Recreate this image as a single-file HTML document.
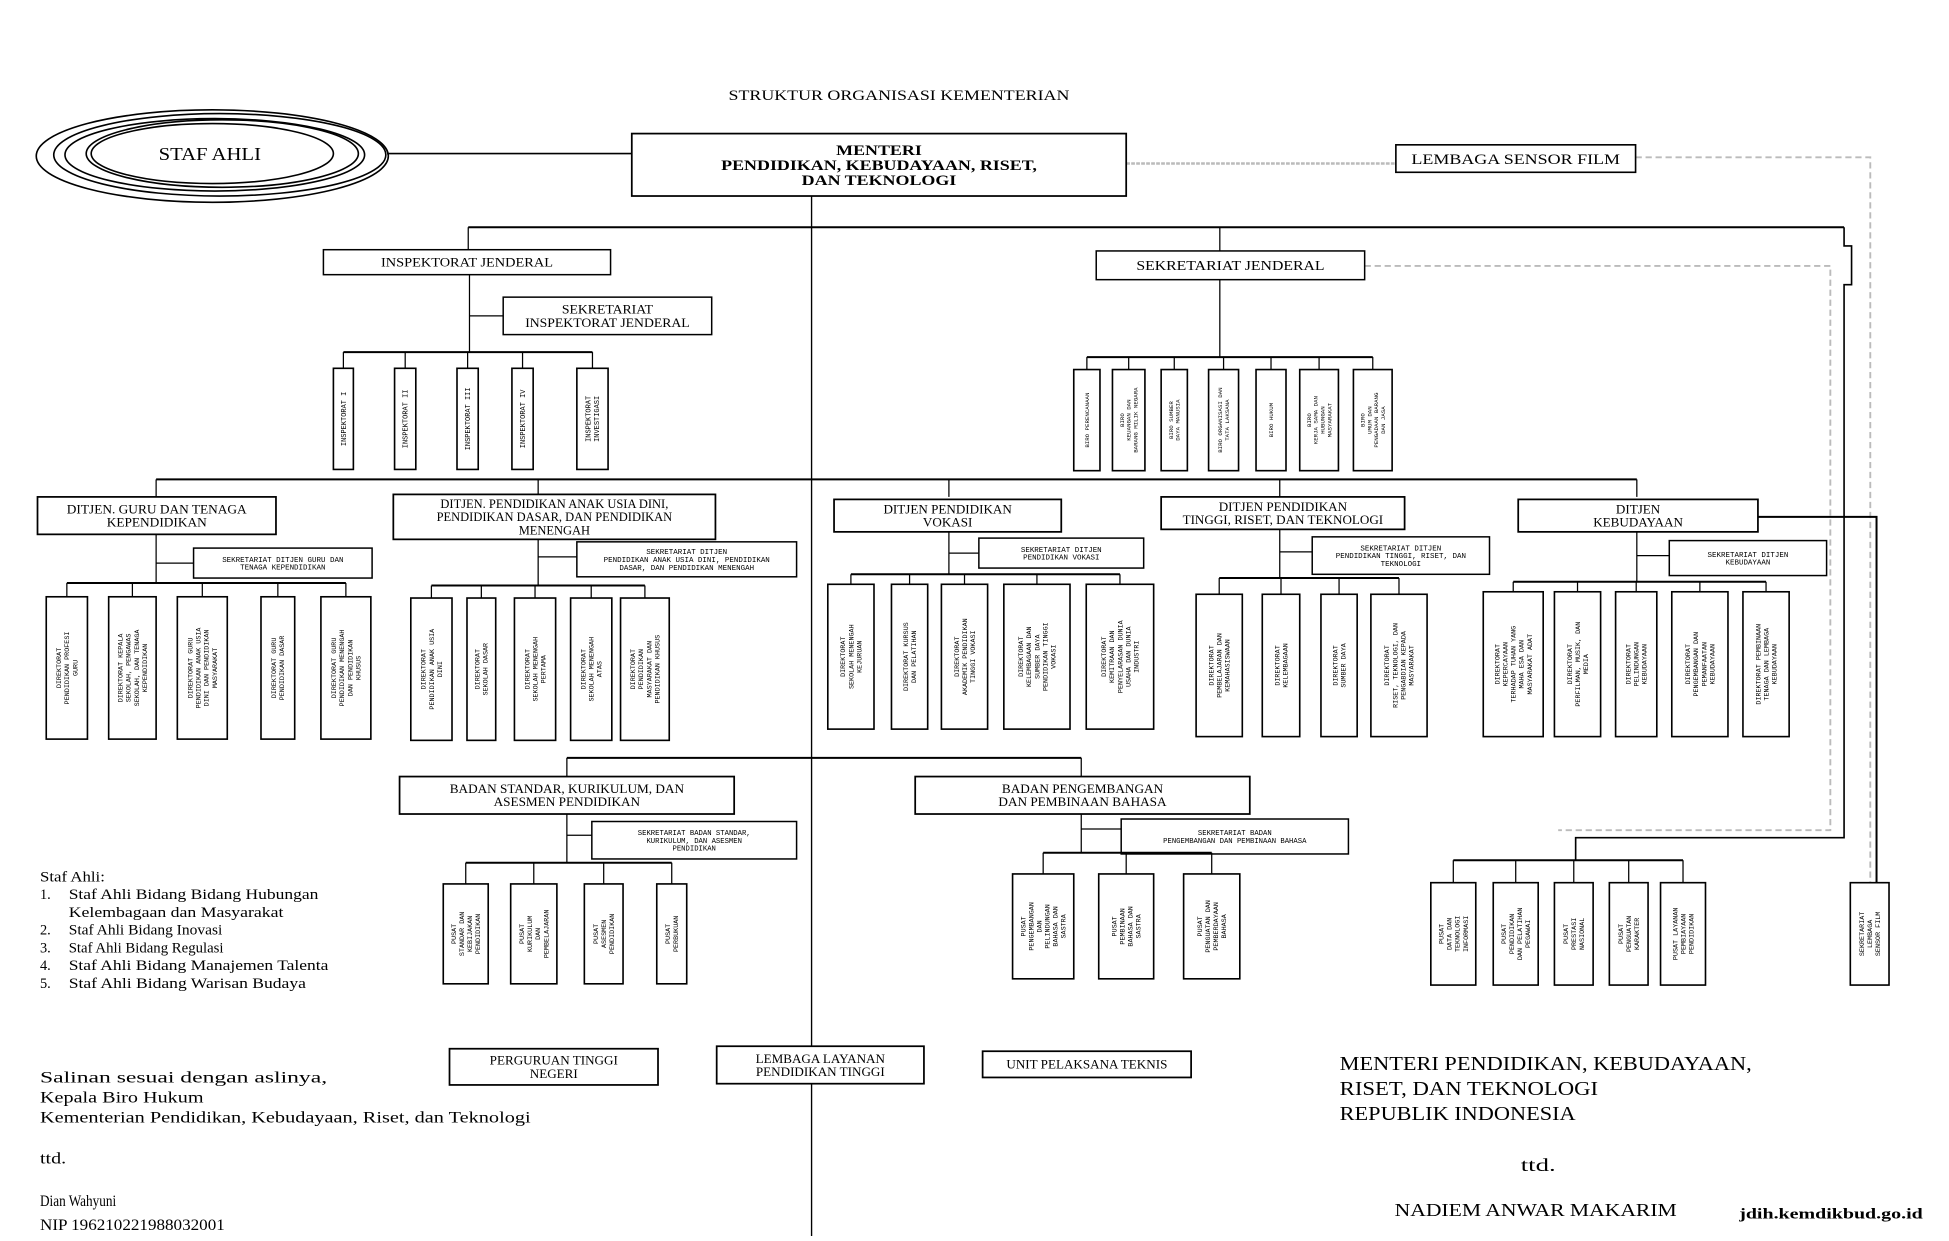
<!DOCTYPE html>
<html><head><meta charset="utf-8"><style>
html,body{margin:0;padding:0;background:#fff;width:1949px;height:1241px;overflow:hidden}
svg{display:block}
</style></head><body>
<svg id="s" xmlns="http://www.w3.org/2000/svg" width="1949" height="1241" viewBox="0 0 1561 994" font-family="Liberation Serif, serif">
<rect x="0" y="0" width="1561" height="994" fill="#fff"/>
<g id="g" stroke="#000" fill="none" stroke-width="1"></g>
<g id="t" fill="#000" stroke="none"></g>
</svg>
<script>
var G=document.getElementById('g'),T=document.getElementById('t'),NS='http://www.w3.org/2000/svg';
function el(p,n,a,txt){var e=document.createElementNS(NS,n);for(var k in a)e.setAttribute(k,a[k]);if(txt!=null)e.textContent=txt;p.appendChild(e);return e;}
function L(x1,y1,x2,y2,w,c,d){var a={x1:x1,y1:y1,x2:x2,y2:y2};if(w)a['stroke-width']=w;if(c)a.stroke=c;if(d)a['stroke-dasharray']=d;el(G,'line',a);}
function P(pts,w,c,d){var a={points:pts};if(w)a['stroke-width']=w;if(c)a.stroke=c;if(d)a['stroke-dasharray']=d;el(G,'polyline',a);}
function R(x1,y1,x2,y2,w){el(G,'rect',{x:x1,y:y1,width:x2-x1,height:y2-y1,fill:'#fff','stroke-width':w||1.2});}
function fit(e,sx,w){var n=e.getComputedTextLength();var t=w||n*(sx||1);if(Math.abs(t-n)>0.5){e.setAttribute('textLength',t);e.setAttribute('lengthAdjust','spacingAndGlyphs');}}
function TX(x,y,s,txt,o){o=o||{};var a={x:x,y:y,'font-size':s,'text-anchor':o.a||'middle'};if(o.b)a['font-weight']='bold';if(o.f)a['font-family']=o.f;var e=el(T,'text',a,txt);if(o.sx||o.w)fit(e,o.sx,o.w);return e;}
function HB(x1,y1,x2,y2,lines,s,o){o=o||{};R(x1,y1,x2,y2,o.w);s=s||10;var lh=s*1.05,cx=(x1+x2)/2,cy=(y1+y2)/2,y0=cy-(lines.length-1)*lh/2+s*0.35;
 lines.forEach(function(l,i){TX(cx,y0+i*lh,s,l,{b:o.b,f:o.f,sx:o.sx});});}
function VB(x1,y1,x2,y2,lines,s){R(x1,y1,x2,y2,1.3);s=s||5.6;var lh=s*1.2,cx=(x1+x2)/2,cy=(y1+y2)/2;
 var g=el(T,'g',{transform:'translate('+cx+','+cy+') rotate(-90)'});
 var y0=-(lines.length-1)*lh/2+s*0.35;
 lines.forEach(function(l,i){el(g,'text',{x:0,y:y0+i*lh,'font-size':s,'text-anchor':'middle','font-family':'Liberation Mono, monospace'},l);});}
function group(hy,xs,top,bot,tx,labels,s){
 var cs=xs.map(function(b){return (b[0]+b[1])/2;});
 L(Math.min.apply(0,cs),hy,Math.max.apply(0,cs),hy,1.6);
 xs.forEach(function(b,i){L(cs[i],hy,cs[i],top);VB(b[0],top,b[1],bot,labels[i],s);});}

TX(720,80,12,'STRUKTUR ORGANISASI KEMENTERIAN',{w:273});
[[170,125,141,37],[176,124,133,33],[172,124,120,29],[178,123,109,27],[170,123,97,24]].forEach(function(e){el(G,'ellipse',{cx:e[0],cy:e[1],rx:e[2],ry:e[3],'stroke-width':1.3});});
TX(168,128,14,'STAF AHLI',{w:82});
L(310,123,506,123,1.3);
L(650,157,650,990,1.1);
P('902,131 1118,131',2,'#bbb','3,1');
P('1310,126 1498,126 1498,712',1.5,'#bbb','5,3');
P('1093,213 1466,213 1466,665 1248,665',1.5,'#bbb','5,3');
HB(506,107,902,157,['MENTERI','PENDIDIKAN, KEBUDAYAAN, RISET,','DAN TEKNOLOGI'],11.5,{b:1,w:1.4,sx:1.25});
HB(1118,116,1310,138,['LEMBAGA SENSOR FILM'],12,{w:1.3,sx:1.2});
L(375,182,1477,182,1.6);
L(375,182,375,200);L(977,182,977,201);
P('1477,182 1477,197 1483,197 1483,228 1477,228 1477,671 1262,671 1262,689',1.3);
HB(259,200,489,220,['INSPEKTORAT        JENDERAL'],10,{sx:1.15});
L(376,220,376,282);L(376,253,403,253);
HB(403,238,570,268,['SEKRETARIAT','INSPEKTORAT JENDERAL'],10,{sx:1.1});
group(282,[[267,283],[316,333],[366,383],[410,427],[462,487]],295,376,0,[['INSPEKTORAT I'],['INSPEKTORAT II'],['INSPEKTORAT III'],['INSPEKTORAT IV'],['INSPEKTORAT','INVESTIGASI']],5.6);
HB(878,201,1093,224,['SEKRETARIAT       JENDERAL'],11,{sx:1.15});
L(977,224,977,286);
group(286,[[860,881],[891,917],[930,951],[968,992],[1006,1030],[1041,1072],[1084,1115]],296,377,0,[['BIRO PERENCANAAN'],['BIRO','KEUANGAN DAN','BARANG MILIK NEGARA'],['BIRO SUMBER','DAYA MANUSIA'],['BIRO ORGANISASI DAN','TATA LAKSANA'],['BIRO HUKUM'],['BIRO','KERJA SAMA DAN','HUBUNGAN','MASYARAKAT'],['BIRO','UMUM DAN','PENGADAAN BARANG','DAN JASA']],4.6);
L(125,384,1311,384,1.6);
[125,431,760,1025,1311].forEach(function(x){L(x,384,x,398);});
HB(30,398,221,428,['DITJEN. GURU DAN TENAGA','KEPENDIDIKAN'],10,{w:1.4,sx:1.07});
HB(315,396,573,432,['DITJEN. PENDIDIKAN ANAK USIA DINI,','PENDIDIKAN DASAR, DAN PENDIDIKAN','MENENGAH'],10,{w:1.4});
HB(668,400,850,426,['DITJEN PENDIDIKAN','VOKASI'],10,{w:1.4,sx:1.05});
HB(930,398,1125,424,['DITJEN PENDIDIKAN','TINGGI, RISET, DAN TEKNOLOGI'],10,{w:1.4,sx:1.05});
HB(1216,400,1408,426,['DITJEN','KEBUDAYAAN'],10,{w:1.4,sx:1.05});
P('1408,414 1503,414 1503,707',1.6);
L(125,428,125,467);L(125,451,155,451);HB(155,439,298,463,['SEKRETARIAT DITJEN GURU DAN','TENAGA KEPENDIDIKAN'],6,{f:'Liberation Mono, monospace'});
L(431,432,431,469);L(431,446,462,446);HB(462,434,638,462,['SEKRETARIAT DITJEN','PENDIDIKAN ANAK USIA DINI, PENDIDIKAN','DASAR, DAN PENDIDIKAN MENENGAH'],6,{f:'Liberation Mono, monospace'});
L(760,426,760,460);L(760,443,784,443);HB(784,431,916,455,['SEKRETARIAT DITJEN','PENDIDIKAN VOKASI'],6,{f:'Liberation Mono, monospace'});
L(1025,424,1025,463);L(1025,442,1051,442);HB(1051,430,1193,460,['SEKRETARIAT  DITJEN','PENDIDIKAN TINGGI, RISET, DAN','TEKNOLOGI'],6,{f:'Liberation Mono, monospace'});
L(1311,426,1311,466);L(1311,445,1337,445);HB(1337,433,1463,461,['SEKRETARIAT  DITJEN','KEBUDAYAAN'],6,{f:'Liberation Mono, monospace'});
group(467,[[37,70],[87,125],[142,182],[209,236],[257,297]],478,592,0,[['DIREKTORAT','PENDIDIKAN PROFESI','GURU'],['DIREKTORAT KEPALA','SEKOLAH, PENGAWAS','SEKOLAH, DAN TENAGA','KEPENDIDIKAN'],['DIREKTORAT GURU','PENDIDIKAN ANAK USIA','DINI DAN PENDIDIKAN','MASYARAKAT'],['DIREKTORAT GURU','PENDIDIKAN DASAR'],['DIREKTORAT GURU','PENDIDIKAN MENENGAH','DAN PENDIDIKAN','KHUSUS']],5.4);
group(469,[[329,362],[374,397],[412,445],[457,490],[497,536]],479,593,0,[['DIREKTORAT','PENDIDIKAN ANAK USIA','DINI'],['DIREKTORAT','SEKOLAH DASAR'],['DIREKTORAT','SEKOLAH MENENGAH','PERTAMA'],['DIREKTORAT','SEKOLAH MENENGAH','ATAS'],['DIREKTORAT','PENDIDIKAN','MASYARAKAT DAN','PENDIDIKAN KHUSUS']],5.4);
group(460,[[663,700],[714,743],[754,791],[804,857],[870,924]],468,584,0,[['DIREKTORAT','SEKOLAH MENENGAH','KEJURUAN'],['DIREKTORAT KURSUS','DAN PELATIHAN'],['DIREKTORAT','AKADEMIK PENDIDIKAN','TINGGI VOKASI'],['DIREKTORAT','KELEMBAGAAN DAN','SUMBER DAYA','PENDIDIKAN TINGGI','VOKASI'],['DIREKTORAT','KEMITRAAN DAN','PENYELARASAN DUNIA','USAHA DAN DUNIA','INDUSTRI']],5.4);
group(463,[[958,995],[1011,1041],[1058,1087],[1098,1143]],476,590,0,[['DIREKTORAT','PEMBELAJARAN DAN','KEMAHASISWAAN'],['DIREKTORAT','KELEMBAGAAN'],['DIREKTORAT','SUMBER DAYA'],['DIREKTORAT','RISET, TEKNOLOGI, DAN','PENGABDIAN KEPADA','MASYARAKAT']],5.4);
group(466,[[1188,1236],[1245,1282],[1294,1327],[1339,1384],[1396,1433]],474,590,0,[['DIREKTORAT','KEPERCAYAAN','TERHADAP TUHAN YANG','MAHA ESA DAN','MASYARAKAT ADAT'],['DIREKTORAT','PERFILMAN, MUSIK, DAN','MEDIA'],['DIREKTORAT','PELINDUNGAN','KEBUDAYAAN'],['DIREKTORAT','PENGEMBANGAN DAN','PEMANFAATAN','KEBUDAYAAN'],['DIREKTORAT PEMBINAAN','TENAGA DAN LEMBAGA','KEBUDAYAAN']],5.4);
L(454,607,866,607,1.6);L(454,607,454,622);L(866,607,866,622);
HB(320,622,588,652,['BADAN STANDAR, KURIKULUM, DAN','ASESMEN PENDIDIKAN'],10,{w:1.4,sx:1.06});
HB(733,622,1001,652,['BADAN PENGEMBANGAN','DAN PEMBINAAN BAHASA'],10,{w:1.4,sx:1.06});
L(454,652,454,691);L(454,669,474,669);
HB(474,658,638,688,['SEKRETARIAT BADAN STANDAR,','KURIKULUM, DAN ASESMEN','PENDIDIKAN'],5.8,{f:'Liberation Mono, monospace'});
group(691,[[355,391],[409,446],[468,499],[526,550]],708,788,0,[['PUSAT','STANDAR DAN','KEBIJAKAN','PENDIDIKAN'],['PUSAT','KURIKULUM','DAN','PEMBELAJARAN'],['PUSAT','ASESMEN','PENDIDIKAN'],['PUSAT','PERBUKUAN']],5.4);
L(866,652,866,683);L(866,664,898,664);
HB(898,656,1080,684,['SEKRETARIAT BADAN','PENGEMBANGAN DAN PEMBINAAN BAHASA'],5.8,{f:'Liberation Mono, monospace'});
group(683,[[811,860],[880,924],[948,993]],700,784,0,[['PUSAT','PENGEMBANGAN','DAN','PELINDUNGAN','BAHASA DAN','SASTRA'],['PUSAT','PEMBINAAN','BAHASA DAN','SASTRA'],['PUSAT','PENGUATAN DAN','PEMBERDAYAAN','BAHASA']],5.4);
group(689,[[1146,1182],[1196,1232],[1245,1276],[1289,1320],[1330,1366]],707,789,0,[['PUSAT','DATA DAN','TEKNOLOGI','INFORMASI'],['PUSAT','PENDIDIKAN','DAN PELATIHAN','PEGAWAI'],['PUSAT','PRESTASI','NASIONAL'],['PUSAT','PENGUATAN','KARAKTER'],['PUSAT LAYANAN','PEMBIAYAAN','PENDIDIKAN']],5.4);
VB(1482,707,1513,789,['SEKRETARIAT','LEMBAGA','SENSOR FILM'],5.4);
HB(360,840,527,869,['PERGURUAN TINGGI','NEGERI'],10,{w:1.4,sx:1.05});
HB(574,838,740,868,['LEMBAGA LAYANAN','PENDIDIKAN TINGGI'],10,{w:1.4,sx:1.05});
HB(787,842,954,863,['UNIT PELAKSANA TEKNIS'],10,{w:1.4,sx:1.05});
var sa=[['','Staf Ahli:',52],['1.','Staf Ahli Bidang Bidang Hubungan',200],['','Kelembagaan dan Masyarakat',172],['2.','Staf Ahli Bidang Inovasi',123],['3.','Staf Ahli Bidang Regulasi',124],['4.','Staf Ahli Bidang Manajemen Talenta',208],['5.','Staf Ahli Bidang Warisan Budaya',190]];
sa.forEach(function(r,i){var y=706+i*14.2;if(i==0){TX(32,y,11.5,r[1],{a:'start',w:r[2]});}else{if(r[0])TX(32,y,11.5,r[0],{a:'start'});TX(55,y,11.5,r[1],{a:'start',w:r[2]});}});
[['Salinan sesuai dengan aslinya,',867,230],['Kepala Biro Hukum',883,131],['Kementerian Pendidikan, Kebudayaan, Riset, dan Teknologi',899,393],['ttd.',932,21],['Dian Wahyuni',966,61],['NIP 196210221988032001',985,148]].forEach(function(r){TX(32,r[1],12.5,r[0],{a:'start',w:r[2]});});
TX(1073,857,16,'MENTERI PENDIDIKAN, KEBUDAYAAN,',{a:'start',w:330});
TX(1073,877,16,'RISET, DAN TEKNOLOGI',{a:'start',w:207});
TX(1073,897,16,'REPUBLIK INDONESIA',{a:'start',w:189});
TX(1218,938,14,'ttd.',{a:'start',w:28});
TX(1117,974,14,'NADIEM ANWAR MAKARIM',{a:'start',w:226});
TX(1393,976,12,'jdih.kemdikbud.go.id',{a:'start',b:1,w:147});
</script>
</body></html>
